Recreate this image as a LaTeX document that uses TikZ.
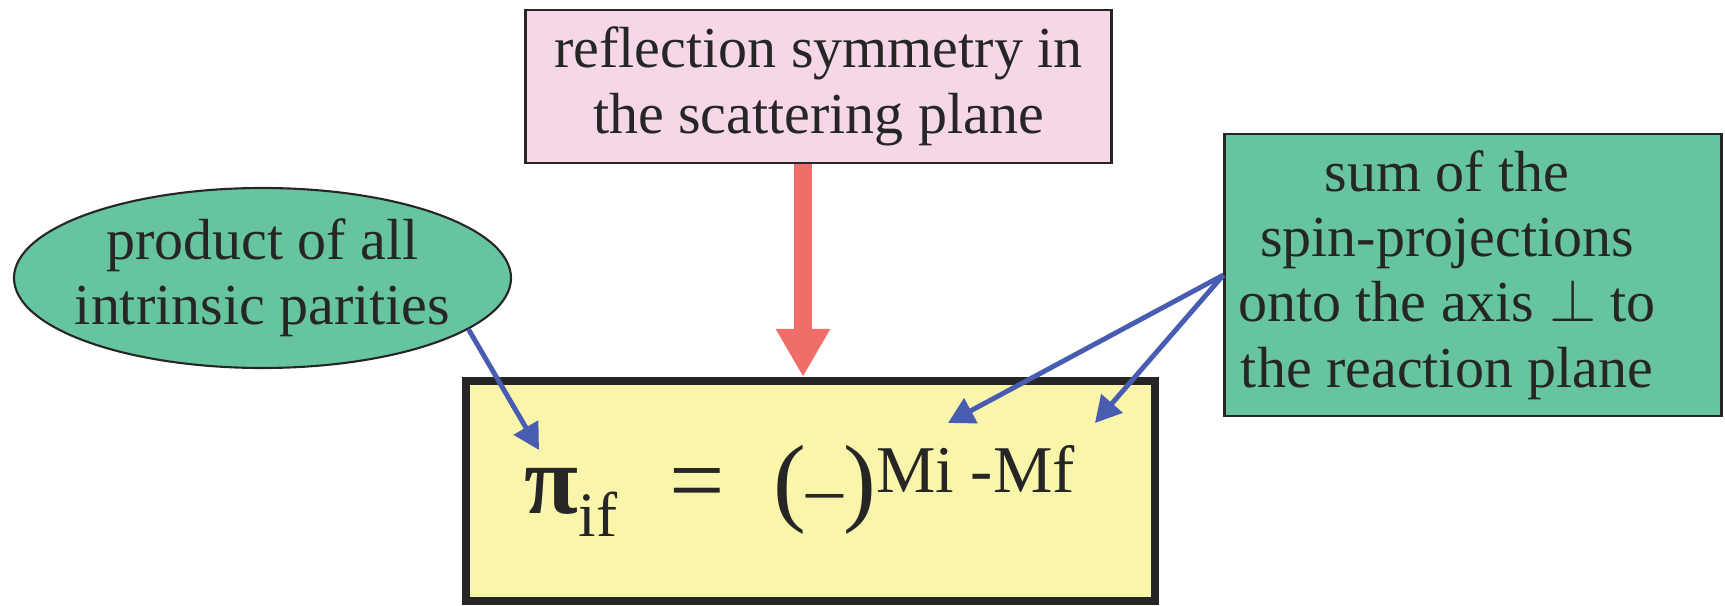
\documentclass[tikz,border=0pt]{standalone}
\usepackage{fontspec}
\setmainfont{Liberation Serif}
\usepackage{tikz}
\usetikzlibrary{shapes.geometric,arrows.meta,positioning,calc}
\definecolor{notepink}{RGB}{246,215,232}
\definecolor{notegreen}{RGB}{102,196,158}
\definecolor{eqyellow}{RGB}{249,245,171}
\definecolor{dropred}{RGB}{240,110,106}
\definecolor{pointblue}{RGB}{72,92,178}
\definecolor{inkgray}{RGB}{38,38,38}

\begin{document}
\begin{tikzpicture}[
  x=1cm, y=1cm,
  note/.style={draw=inkgray, line width=0.6pt, text=inkgray, align=center, inner sep=0pt,
               font=\fontsize{16.5}{18.6}\selectfont},
  box/.style={note, rectangle},
  oval/.style={note, ellipse, inner xsep=-4mm, inner ysep=-1mm},
  eqbox/.style={rectangle, draw=inkgray, line width=2.3pt, fill=eqyellow, inner sep=0pt},
  point/.style={-{Triangle[length=2.6mm,width=2.75mm]}, line width=1.4pt, draw=pointblue},
  drop/.style={-{Triangle[length=4.8mm,width=5.1mm]}, line width=5.1pt, draw=dropred}]

  \useasboundingbox (0,0) rectangle (17.25,6.06);

  % ---------- formula ----------
  \node[eqbox, minimum width=6.89cm, minimum height=2.20cm] (eq) at (8.105,1.15) {};
  \node[anchor=base west, inner sep=0pt, text=inkgray, font=\fontsize{28}{30}\selectfont]
    (formula) at (5.24,0.92)
    {\textbf{π}\raisebox{-6.5pt}{\fontsize{18}{18}\selectfont if}\hspace{14.8pt}=\hspace{14pt}%
     ({\fontsize{21}{21}\selectfont –})\raisebox{6pt}{\fontsize{19}{19}\selectfont Mi -Mf}};

  % ---------- notes ----------
  \node[box, fill=notepink, minimum width=5.86cm, minimum height=1.53cm] (refl) at (8.185,5.195)
    {reflection symmetry in\\ the scattering plane};
  \node[oval, fill=notegreen, minimum width=4.97cm, minimum height=1.80cm] (parity) at (2.625,3.28)
    {product of all\\ intrinsic parities};
  \node[box, fill=notegreen, minimum width=4.97cm, minimum height=2.82cm] (spin) at (14.73,3.31)
    {\hspace*{-5.2mm}sum of the\\ \hspace*{-5.2mm}spin-projections\\
     \hspace*{-5.2mm}onto the axis $\perp$ to\\ \hspace*{-5.2mm}the reaction plane};

  % arrow tips inside the formula box
  \coordinate (tipA) at (5.39,1.56);
  \coordinate (tipB) at (9.48,1.83);
  \coordinate (tipC) at (10.95,1.83);

  % ---------- connectors ----------
  \draw[drop] ([xshift=-1.55mm]refl.south) -- ([xshift=-0.75mm]eq.north);
  \draw[point] (parity.-14) -- (tipA);
  \draw[point] (spin.west) -- (tipB);
  \draw[point] (spin.west) -- (tipC);

\end{tikzpicture}
\end{document}
